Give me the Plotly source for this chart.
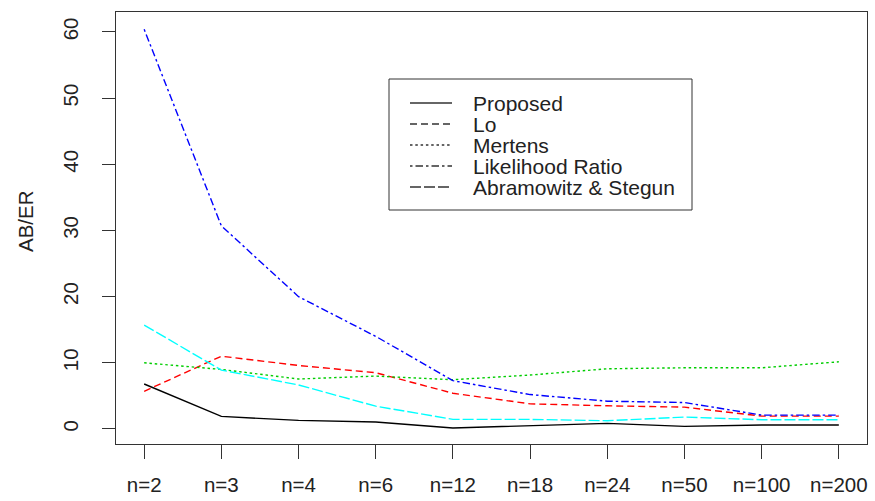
import plotly.graph_objects as go

# Sample sizes on the x axis
categories = ["n=2", "n=3", "n=4", "n=6", "n=12", "n=18", "n=24", "n=50", "n=100", "n=200"]

# AB/ER for each method
proposed = [6.8, 1.9, 1.3, 1.05, 0.15, 0.45, 0.85, 0.4, 0.6, 0.6]
lo = [5.7, 11.0, 9.6, 8.5, 5.4, 3.8, 3.5, 3.3, 1.95, 1.95]
mertens = [10.0, 9.0, 7.55, 8.0, 7.45, 8.15, 9.1, 9.25, 9.25, 10.15]
likelihood_ratio = [60.4, 30.7, 20.0, 14.0, 7.3, 5.2, 4.2, 4.0, 2.1, 2.1]
abramowitz_stegun = [15.7, 8.9, 6.65, 3.45, 1.45, 1.45, 1.25, 1.8, 1.4, 1.4]

y_ticks = [0, 10, 20, 30, 40, 50, 60]

series = [
    ("Proposed", proposed, "#000000", "solid"),
    ("Lo", lo, "#FF0000", "7px,4px"),
    ("Mertens", mertens, "#00CD00", "2.5px,2.8px"),
    ("Likelihood Ratio", likelihood_ratio, "#0000FF", "2.5px,3px,7.5px,3px"),
    ("Abramowitz & Stegun", abramowitz_stegun, "#00FFFF", "11px,3px"),
]

W, H = 875, 501
L, R, T, B = 116, 8, 12, 57
PW, PH = W - L - R, H - T - B
FONT = "Liberation Sans, Arial, sans-serif"
TXT = "#222222"
AX = "#333333"


def px_x(v):
    return (v - L) / PW


def px_y(v):
    return (H - B - v) / PH


fig = go.Figure()
for name, vals, color, dash in series:
    fig.add_trace(go.Scatter(
        x=list(range(len(categories))), y=vals, name=name, mode="lines",
        line=dict(color=color, width=1.4, dash=dash), showlegend=False,
    ))

# Boxed legend in the upper middle of the plot
shapes = [dict(type="rect", xref="paper", yref="paper",
               x0=px_x(389), x1=px_x(692), y0=px_y(210), y1=px_y(79),
               line=dict(color=AX, width=1), fillcolor="white", layer="above")]
annotations = []
row_y = [103, 124, 145, 166, 187]
for (name, _, _, dash), ry in zip(series, row_y):
    shapes.append(dict(type="line", xref="paper", yref="paper",
                       x0=px_x(410), x1=px_x(452), y0=px_y(ry), y1=px_y(ry),
                       line=dict(color=AX, width=1.4, dash=dash), layer="above"))
    annotations.append(dict(text=name, xref="paper", yref="paper",
                            x=px_x(471), y=px_y(ry), xanchor="left", yanchor="middle",
                            showarrow=False, font=dict(family=FONT, size=21, color=TXT)))

annotations.append(dict(text="AB/ER", xref="paper", yref="paper",
                        x=px_x(25), y=px_y(221), textangle=-90,
                        xanchor="center", yanchor="middle", showarrow=False,
                        font=dict(family=FONT, size=20.5, color=TXT)))

fig.update_layout(
    width=W, height=H,
    margin=dict(l=L, r=R, t=T, b=B, autoexpand=False),
    paper_bgcolor="white", plot_bgcolor="white",
    font=dict(family=FONT, size=20.5, color=TXT),
    shapes=shapes, annotations=annotations,
)
fig.update_xaxes(
    range=[-0.365, 9.365], tickmode="array",
    tickvals=list(range(len(categories))), ticktext=categories,
    showgrid=False, zeroline=False, showline=True, mirror=True,
    linecolor=AX, linewidth=1, ticks="outside", ticklen=14, tickcolor=AX,
    tickwidth=1, ticklabelstandoff=8, automargin=False,
)
fig.update_yaxes(
    range=[-2.27, 63.02], tickmode="array", tickvals=y_ticks,
    showgrid=False, zeroline=False, showline=True, mirror=True,
    linecolor=AX, linewidth=1, ticks="outside", ticklen=13, tickcolor=AX,
    tickwidth=1, tickangle=-90, ticklabelstandoff=16, automargin=False,
)

fig.write_html("out.html")
